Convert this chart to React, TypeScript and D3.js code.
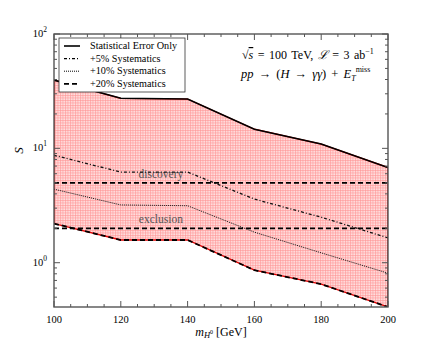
import React from 'react';
import * as d3 from 'd3';

// m_H0 mass points (GeV) and the significance curves
const masses = [100, 120, 140, 160, 180, 200];
const statOnly = [39.5, 27.4, 27.0, 14.7, 10.9, 6.8];
const sys5 = [8.7, 6.2, 6.2, 3.6, 2.5, 1.65];
const sys10 = [4.4, 3.2, 3.15, 1.85, 1.22, 0.81];
const sys20 = [2.2, 1.58, 1.58, 0.86, 0.65, 0.41];

const thresholds = [
  { value: 5, label: 'discovery' },
  { value: 2, label: 'exclusion' },
];

const legendItems = [
  { label: 'Statistical Error Only', dash: null, width: 1.6 },
  { label: '+5% Systematics', dash: '3,2,1,2', width: 1.3 },
  { label: '+10% Systematics', dash: '1,1', width: 1 },
  { label: '+20% Systematics', dash: '5,3', width: 1.8 },
];

const W = 432;
const H = 342;
const M = { left: 54, right: 388, top: 34, bottom: 307 };
const FONT = "'Liberation Serif', 'DejaVu Serif', serif";
const AXIS = '#555';

export default function App() {
  const x = d3.scaleLinear().domain([100, 200]).range([M.left, M.right]);
  const y = d3.scaleLog().domain([0.41, 100]).range([M.bottom, M.top]);

  const pts = (vals: number[]) => masses.map((m, i) => [m, vals[i]] as [number, number]);
  const line = d3.line<[number, number]>().x(d => x(d[0])).y(d => y(d[1]));

  const area = d3.area<number>()
    .x((_, i) => x(masses[i]))
    .y0((_, i) => y(sys20[i]))
    .y1((_, i) => y(statOnly[i]));

  const xMajor = d3.range(100, 201, 20);
  const xMinor = d3.range(100, 201, 5).filter(v => v % 20 !== 0);
  const yMajor = [1, 10, 100];
  const yMinor: number[] = [];
  [0.1, 1, 10].forEach(dec => {
    for (let k = 2; k <= 9; k++) {
      const v = dec * k;
      if (v >= 0.41 && v <= 100) yMinor.push(v);
    }
  });

  const series = [
    { vals: sys5, dash: '3,2,1,2', width: 1.3 },
    { vals: sys10, dash: '1,1', width: 1 },
  ];

  return (
    <svg width={W} height={H}
      style={{ position: 'absolute', left: 0, top: 0, background: '#fff', fontFamily: FONT }}>
      <defs>
        <pattern id="hatch" width="2.5" height="2.5" patternUnits="userSpaceOnUse">
          <rect width="2.5" height="2.5" fill="#ffe0e0" />
          <path d="M0,0.5 H2.5 M0.5,0 V2.5" stroke="#ff9494" strokeWidth="0.6" />
        </pattern>
        <clipPath id="plot">
          <rect x={M.left} y={M.top} width={M.right - M.left} height={M.bottom - M.top} />
        </clipPath>
      </defs>

      <g clipPath="url(#plot)">
        <path d={area(statOnly) || ''} fill="url(#hatch)" stroke="#e00000" strokeWidth={1.3} />

        {thresholds.map(t => (
          <g key={t.label}>
            <line x1={M.left} x2={M.right} y1={y(t.value)} y2={y(t.value)}
              stroke="#000" strokeWidth={1.8} strokeDasharray="5,3" />
            <text x={x(132)} y={y(t.value) - 5} textAnchor="middle"
              fontSize={11.5} fill="#555">{t.label}</text>
          </g>
        ))}

        {series.map((s, i) => (
          <path key={i} d={line(pts(s.vals)) || ''} fill="none" stroke="#111"
            strokeWidth={s.width} strokeDasharray={s.dash} />
        ))}

        <path d={line(pts(statOnly)) || ''} fill="none" stroke="#000" strokeWidth={1.6} />
        <path d={line(pts(sys20)) || ''} fill="none" stroke="#000" strokeWidth={1.8} strokeDasharray="5,3" />
      </g>

      {/* frame and ticks */}
      <rect x={M.left} y={M.top} width={M.right - M.left} height={M.bottom - M.top}
        fill="none" stroke={AXIS} strokeWidth={1.4} />
      {xMajor.map(v => (
        <g key={'xm' + v}>
          <line x1={x(v)} x2={x(v)} y1={M.bottom} y2={M.bottom - 6} stroke={AXIS} />
          <line x1={x(v)} x2={x(v)} y1={M.top} y2={M.top + 6} stroke={AXIS} />
          <text x={x(v)} y={M.bottom + 16} textAnchor="middle" fontSize={10.5}>{v}</text>
        </g>
      ))}
      {xMinor.map(v => (
        <g key={'xn' + v}>
          <line x1={x(v)} x2={x(v)} y1={M.bottom} y2={M.bottom - 3} stroke={AXIS} />
          <line x1={x(v)} x2={x(v)} y1={M.top} y2={M.top + 3} stroke={AXIS} />
        </g>
      ))}
      {yMajor.map(v => (
        <g key={'ym' + v}>
          <line x1={M.left} x2={M.left + 6} y1={y(v)} y2={y(v)} stroke={AXIS} />
          <line x1={M.right} x2={M.right - 6} y1={y(v)} y2={y(v)} stroke={AXIS} />
          <text x={M.left - 7} y={y(v) + 3} textAnchor="end" fontSize={10.5}>
            10<tspan dy={-5} fontSize={7.5}>{Math.round(Math.log10(v))}</tspan>
          </text>
        </g>
      ))}
      {yMinor.map(v => (
        <g key={'yn' + v}>
          <line x1={M.left} x2={M.left + 3} y1={y(v)} y2={y(v)} stroke={AXIS} />
          <line x1={M.right} x2={M.right - 3} y1={y(v)} y2={y(v)} stroke={AXIS} />
        </g>
      ))}

      {/* axis labels */}
      <text x={221} y={336} textAnchor="middle" fontSize={12}>
        <tspan fontStyle="italic">m</tspan>
        <tspan fontStyle="italic" fontSize={8.5} dy={2}>H</tspan>
        <tspan fontSize={6} dy={-4}>0</tspan>
        <tspan dy={2}> [GeV]</tspan>
      </text>
      <text transform={`translate(23,${(M.top + M.bottom) / 2 - 20}) rotate(-90)`} textAnchor="middle"
        fontSize={13} fontStyle="italic">S</text>

      {/* legend */}
      <rect x={59} y={38} width={126} height={54} fill="#fff" stroke="#333" strokeWidth={0.8} />
      {legendItems.map((d, i) => {
        const ly = 46 + i * 12.6;
        return (
          <g key={d.label}>
            <line x1={64} x2={80} y1={ly} y2={ly} stroke="#000" strokeWidth={d.width}
              strokeDasharray={d.dash || undefined} />
            <text x={90} y={ly + 3} fontSize={10.2}>{d.label}</text>
          </g>
        );
      })}

      {/* annotations */}
      <text x={242} y={59} fontSize={12} wordSpacing={1.5}>
        √<tspan fontStyle="italic" textDecoration="overline">s</tspan> = 100 TeV, <tspan fontStyle="italic">ℒ</tspan> = 3 ab<tspan dy={-5} fontSize={8}>−1</tspan>
      </text>
      <text x={241} y={78} fontSize={12.5} wordSpacing={2}>
        <tspan fontStyle="italic">pp</tspan> → (<tspan fontStyle="italic">H</tspan> → <tspan fontStyle="italic">γγ</tspan>) + <tspan fontStyle="italic">E</tspan>
        <tspan fontStyle="italic" fontSize={8} dy={3}>T</tspan>
        <tspan fontSize={8} dy={-9}>miss</tspan>
      </text>
    </svg>
  );
}
